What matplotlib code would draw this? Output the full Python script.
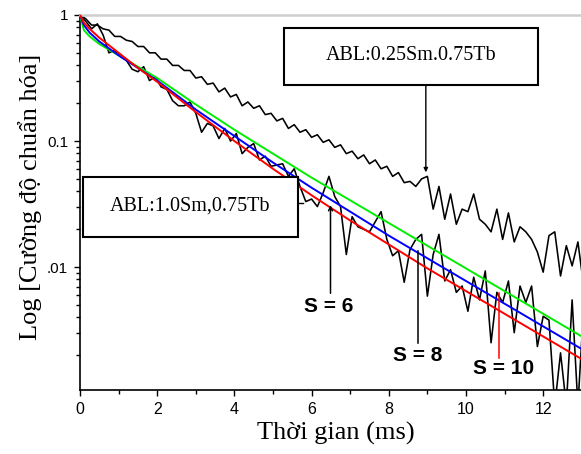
import numpy as np
import matplotlib
matplotlib.use("Agg")
import matplotlib.pyplot as plt
from matplotlib.patches import Rectangle
from matplotlib.ticker import FixedLocator, LogLocator, NullFormatter

plt.rcParams["font.family"] = ["Liberation Sans", "DejaVu Sans"]

# ---------------- data (log10 of normalised intensity) ----------------
time_ms = [0.00, 0.15, 0.30, 0.45, 0.60, 0.75, 0.90, 1.05, 1.20, 1.35,
           1.50, 1.65, 1.80, 1.95, 2.10, 2.25, 2.40, 2.55, 2.70, 2.85,
           3.00, 3.15, 3.30, 3.45, 3.60, 3.75, 3.90, 4.05, 4.20, 4.35,
           4.50, 4.65, 4.80, 4.95, 5.10, 5.25, 5.40, 5.55, 5.70, 5.85,
           6.00, 6.15, 6.30, 6.45, 6.60, 6.75, 6.90, 7.05, 7.20, 7.35,
           7.50, 7.65, 7.80, 7.95, 8.10, 8.25, 8.40, 8.55, 8.70, 8.85,
           9.00, 9.15, 9.30, 9.45, 9.60, 9.75, 9.90, 10.05, 10.20, 10.35,
           10.50, 10.65, 10.80, 10.95, 11.10, 11.25, 11.40, 11.55, 11.70, 11.85,
           12.00, 12.15, 12.30, 12.45, 12.60, 12.75, 12.90, 13.05]

# ABL:0.25Sm.0.75Tb
log_int_025sm = [0.00, -0.03, -0.08, -0.08, -0.11, -0.12, -0.17, -0.17, -0.20, -0.21,
                 -0.25, -0.25, -0.30, -0.30, -0.35, -0.35, -0.40, -0.40, -0.44, -0.44,
                 -0.50, -0.49, -0.55, -0.54, -0.61, -0.58, -0.65, -0.63, -0.72, -0.69,
                 -0.74, -0.72, -0.79, -0.78, -0.84, -0.82, -0.90, -0.87, -0.93, -0.91,
                 -0.97, -0.95, -1.01, -0.99, -1.05, -1.03, -1.10, -1.08, -1.14, -1.11,
                 -1.18, -1.15, -1.22, -1.20, -1.28, -1.25, -1.33, -1.32, -1.36, -1.30,
                 -1.28, -1.54, -1.36, -1.62, -1.42, -1.66, -1.54, -1.56, -1.42, -1.62,
                 -1.66, -1.72, -1.54, -1.78, -1.57, -1.80, -1.68, -1.72, -1.78, -1.88,
                 -2.04, -1.75, -1.72, -2.07, -1.83, -1.99, -1.80, -2.15]

# ABL:1.0Sm,0.75Tb
log_int_10sm = [0.00, -0.05, -0.11, -0.07, -0.16, -0.30, -0.28, -0.33, -0.36, -0.43,
                -0.45, -0.41, -0.52, -0.49, -0.57, -0.59, -0.68, -0.72, -0.72, -0.69,
                -0.78, -0.93, -0.86, -0.88, -0.98, -0.90, -1.00, -0.94, -1.10, -1.05,
                -1.02, -1.15, -1.12, -1.20, -1.19, -1.18, -1.28, -1.22, -1.36, -1.48,
                -1.46, -1.52, -1.41, -1.28, -1.44, -1.52, -1.90, -1.60, -1.68, -1.70,
                -1.72, -1.64, -1.56, -1.78, -1.91, -1.87, -2.12, -1.86, -1.78, -1.74,
                -2.23, -1.90, -1.74, -2.11, -2.02, -2.20, -2.15, -2.35, -2.08, -2.26,
                -2.03, -2.60, -2.20, -2.28, -2.11, -2.52, -2.15, -2.28, -2.15, -2.63,
                -2.39, -2.42, -3.10, -2.68, -3.10, -2.26, -3.10, -2.31]

# fitted curves (Inokuti-Hirayama)
fit_time = [0, 0.1, 0.25, 0.5, 1, 1.5, 2, 3, 4, 5, 6, 7, 8, 9, 10, 11, 12, 13]
log_fit_s6 = [0.00, -0.12, -0.17, -0.23, -0.32, -0.41, -0.50, -0.71, -0.91, -1.10,
              -1.29, -1.47, -1.65, -1.83, -2.01, -2.19, -2.37, -2.55]
log_fit_s8 = [0.00, -0.08, -0.14, -0.21, -0.32, -0.42, -0.52, -0.75, -0.96, -1.17,
              -1.37, -1.56, -1.75, -1.93, -2.11, -2.29, -2.47, -2.65]
log_fit_s10 = [0.00, -0.06, -0.11, -0.18, -0.30, -0.42, -0.53, -0.77, -1.00, -1.22,
               -1.43, -1.63, -1.82, -2.01, -2.19, -2.37, -2.55, -2.73]

x_ticks = [0, 2, 4, 6, 8, 10, 12]
y_ticks = [1, 0.1, 0.01]
y_tick_labels = ["1", "0.1", ".01"]

# ---------------- figure ----------------
W, H = 581, 454
fig = plt.figure(figsize=(W / 100, H / 100), dpi=100)
ax = fig.add_axes([80 / W, 1 - 390 / H, 501 / W, 375 / H])

def lin(v):
    return 10 ** np.asarray(v, dtype=float)

ax.plot(time_ms, lin(log_int_025sm), color="black", lw=1.15, zorder=2)
ax.plot(time_ms, lin(log_int_10sm), color="black", lw=1.15, zorder=2)
ax.plot(fit_time, lin(log_fit_s6), color="#00ee00", lw=1.4, zorder=3)
ax.plot(fit_time, lin(log_fit_s8), color="#0000ff", lw=1.4, zorder=3)
ax.plot(fit_time, lin(log_fit_s10), color="#ff0000", lw=1.4, zorder=4)

ax.set_yscale("log")
ax.set_xlim(0, 12.98)
ax.set_ylim(1.06e-3, 1.0)

ax.set_xticks(x_ticks)
ax.xaxis.set_minor_locator(FixedLocator([1, 3, 5, 7, 9, 11]))
ax.set_yticks(y_ticks)
ax.set_yticklabels(y_tick_labels)
ax.yaxis.set_minor_locator(LogLocator(base=10, subs=np.arange(2, 10)))
ax.yaxis.set_minor_formatter(NullFormatter())

ax.tick_params(axis="both", which="major", direction="out", length=4.5, width=1.0, pad=4)
ax.tick_params(axis="x", which="major", labelsize=11.5)
ax.tick_params(axis="y", which="major", labelsize=11)
ax.tick_params(axis="both", which="minor", direction="out", length=3, width=1.0)

ax.spines["right"].set_visible(False)
ax.spines["top"].set_color("#cfcfcf")
ax.spines["top"].set_linewidth(1.8)
ax.spines["left"].set_linewidth(1.2)
ax.spines["bottom"].set_linewidth(1.2)

serif = ["Liberation Serif", "DejaVu Serif"]
ax.set_xlabel("Thời gian (ms)", fontfamily=serif, fontsize=19)
ax.xaxis.set_label_coords(0.51, -0.085)

# white strip that hides the left part of the tick labels (as in the original)
fig.patches.append(Rectangle((0, 0), 48.5 / W, 1, transform=fig.transFigure,
                             facecolor="white", edgecolor="none", zorder=1))
fig.text(30 / W, 1 - 197 / H, "Log [Cường độ chuẩn hóa]", rotation=90,
         ha="center", va="center", fontfamily=serif, fontsize=19, zorder=3)

# annotation boxes
def box(x0, y0, x1, y1, text, ty):
    fig.patches.append(Rectangle((x0 / W, 1 - y1 / H), (x1 - x0) / W, (y1 - y0) / H,
                                 transform=fig.transFigure, facecolor="white",
                                 edgecolor="black", lw=1.5, zorder=2))
    fig.text((x0 + x1) / 2 / W, 1 - ty / H, text, ha="center", va="center",
             fontfamily=serif, fontsize=14.5, zorder=3)

box(284, 28, 538, 85, "ABL:0.25Sm.0.75Tb", 55)
box(83, 177, 298, 237, "ABL:1.0Sm,0.75Tb", 206)

# arrow from upper box to its curve
ax.annotate("", xy=(8.96, 0.0565), xytext=(8.96, 0.30),
            arrowprops=dict(arrowstyle="-|>", lw=1.0, color="black",
                            mutation_scale=6, shrinkA=0, shrinkB=0), zorder=5)
# short stub from the lower box
ax.plot([5.65, 5.78], [0.032, 0.032], color="black", lw=1.0, zorder=5)

bold = dict(fontfamily=["Liberation Sans", "DejaVu Sans"], fontsize=15,
            fontweight="bold", ha="center", va="center", zorder=6)
ax.annotate("", xy=(6.49, 0.031), xytext=(6.49, 0.0062),
            arrowprops=dict(arrowstyle="->", lw=1.1, color="black",
                            mutation_scale=7, shrinkA=0, shrinkB=0), zorder=5)
ax.text(6.45, 0.0049, "S = 6", **bold)
ax.plot([8.76, 8.76], [0.0135, 0.00249], color="black", lw=1.1, zorder=5)
ax.text(8.76, 0.0020, "S = 8", **bold)
ax.plot([10.85, 10.85], [0.0062, 0.0019], color="#ff0000", lw=1.1, zorder=5)
ax.text(10.98, 0.00158, "S = 10", **bold)

fig.savefig("out.png", dpi=100)
